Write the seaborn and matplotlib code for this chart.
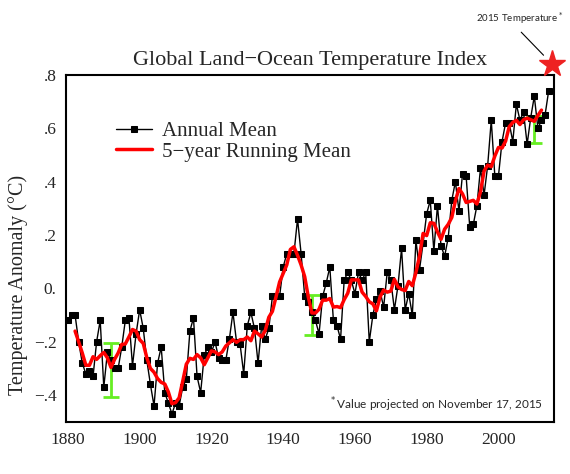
import matplotlib
matplotlib.use("Agg")
import matplotlib.pyplot as plt
import numpy as np
import pandas as pd
import seaborn as sns

# annual global land-ocean temperature anomaly (deg C)
years = np.arange(1880, 2015)
annual = [
    -0.12, -0.10, -0.10, -0.20, -0.28, -0.32, -0.31, -0.33, -0.20, -0.12,   # 1880s
    -0.37, -0.24, -0.27, -0.30, -0.30, -0.22, -0.12, -0.11, -0.29, -0.17,   # 1890s
    -0.08, -0.15, -0.27, -0.36, -0.44, -0.28, -0.22, -0.39, -0.43, -0.47,   # 1900s
    -0.43, -0.44, -0.37, -0.34, -0.16, -0.11, -0.33, -0.39, -0.25, -0.22,   # 1910s
    -0.24, -0.20, -0.26, -0.27, -0.27, -0.19, -0.09, -0.20, -0.21, -0.32,   # 1920s
    -0.14, -0.09, -0.15, -0.28, -0.14, -0.19, -0.15, -0.03, -0.03, -0.03,   # 1930s
    0.08, 0.13, 0.13, 0.13, 0.26, 0.13, -0.03, -0.05, -0.09, -0.12,         # 1940s
    -0.17, -0.03, 0.02, 0.08, -0.12, -0.14, -0.19, 0.03, 0.06, 0.03,        # 1950s
    -0.02, 0.06, 0.03, 0.06, -0.20, -0.10, -0.04, -0.01, -0.07, 0.06,       # 1960s
    0.03, -0.08, 0.01, 0.15, -0.08, -0.02, -0.10, 0.18, 0.07, 0.17,         # 1970s
    0.28, 0.33, 0.14, 0.31, 0.16, 0.12, 0.19, 0.33, 0.40, 0.29,             # 1980s
    0.43, 0.42, 0.23, 0.24, 0.31, 0.45, 0.35, 0.46, 0.63, 0.42,             # 1990s
    0.42, 0.55, 0.62, 0.62, 0.55, 0.69, 0.63, 0.66, 0.54, 0.64,             # 2000s
    0.72, 0.60, 0.63, 0.65, 0.74,                                           # 2010s
]

# uncertainty bars (green)
err_years = [1892, 1948, 2010]
err_mid = [-0.305, -0.10, 0.595]
err_half = [0.10, 0.075, 0.05]

star_year = 2015
star_value = 0.84

yticks = [-0.4, -0.2, 0.0, 0.2, 0.4, 0.6, 0.8]
ytick_labels = ['\u2212.4', '\u2212.2', '0.', '.2', '.4', '.6', '.8']
xticks = [1880, 1900, 1920, 1940, 1960, 1980, 2000]

df = pd.DataFrame({'year': years, 'annual': annual})
df['running'] = df['annual'].rolling(5, center=True).mean()

sns.set_style("white")
plt.rcParams['font.family'] = ['Liberation Serif', 'DejaVu Serif']
plt.rcParams['mathtext.fontset'] = 'dejavusans'

fig = plt.figure(figsize=(5.7, 4.74), dpi=100)
ax = fig.add_axes([0.116, 0.110, 0.856, 0.732])

sns.lineplot(data=df, x='year', y='annual', ax=ax, color='black', lw=1.0,
             marker='s', markersize=4.4, markeredgecolor='black',
             label='Annual Mean')
sns.lineplot(data=df.dropna(), x='year', y='running', ax=ax, color='#ff0000',
             lw=2.5, label='5\u2212year Running Mean')

ax.errorbar(err_years, err_mid, yerr=err_half, fmt='none', ecolor='#66ee22',
            elinewidth=2, capsize=6, capthick=2, zorder=1)

ax.plot([star_year], [star_value], marker='*', markersize=20, color='#ee2222',
        clip_on=False, zorder=5)
ax.annotate('2015 Temperature$^*$', xy=(star_year, star_value),
            xytext=(0.988, 0.962), textcoords='figure fraction',
            ha='right', va='center', fontsize=7, family=['Lato', 'DejaVu Sans'],
            annotation_clip=False,
            arrowprops=dict(arrowstyle='-', color='black', lw=0.8,
                            shrinkA=3, shrinkB=9, relpos=(0.45, 0)))

ax.text(0.977, 0.05, '$^*$Value projected on November 17, 2015',
        transform=ax.transAxes, ha='right', va='center', fontsize=8.5,
        family=['Lato', 'DejaVu Sans'])

ax.set_xlim(1879.5, 2015.5)
ax.set_ylim(-0.5, 0.8)
ax.set_xticks(xticks)
ax.set_yticks(yticks)
ax.set_yticklabels(ytick_labels)
ax.tick_params(labelsize=12.5, length=0, pad=7)
ax.set_xlabel('')
ax.set_ylabel('')
for s in ax.spines.values():
    s.set_color('black')
    s.set_linewidth(1.5)

ax.set_title('Global Land\u2212Ocean Temperature Index', fontsize=16, pad=7)
fig.text(0.032, 0.399, 'Temperature Anomaly (\u00b0C)', rotation=90,
         ha='center', va='center', fontsize=14.5)

leg = ax.legend(loc='upper left', bbox_to_anchor=(0.086, 0.89), frameon=False,
                fontsize=15, handlelength=1.7, handletextpad=0.5,
                labelspacing=0.05, borderaxespad=0)

fig.savefig('out.png', dpi=100)
